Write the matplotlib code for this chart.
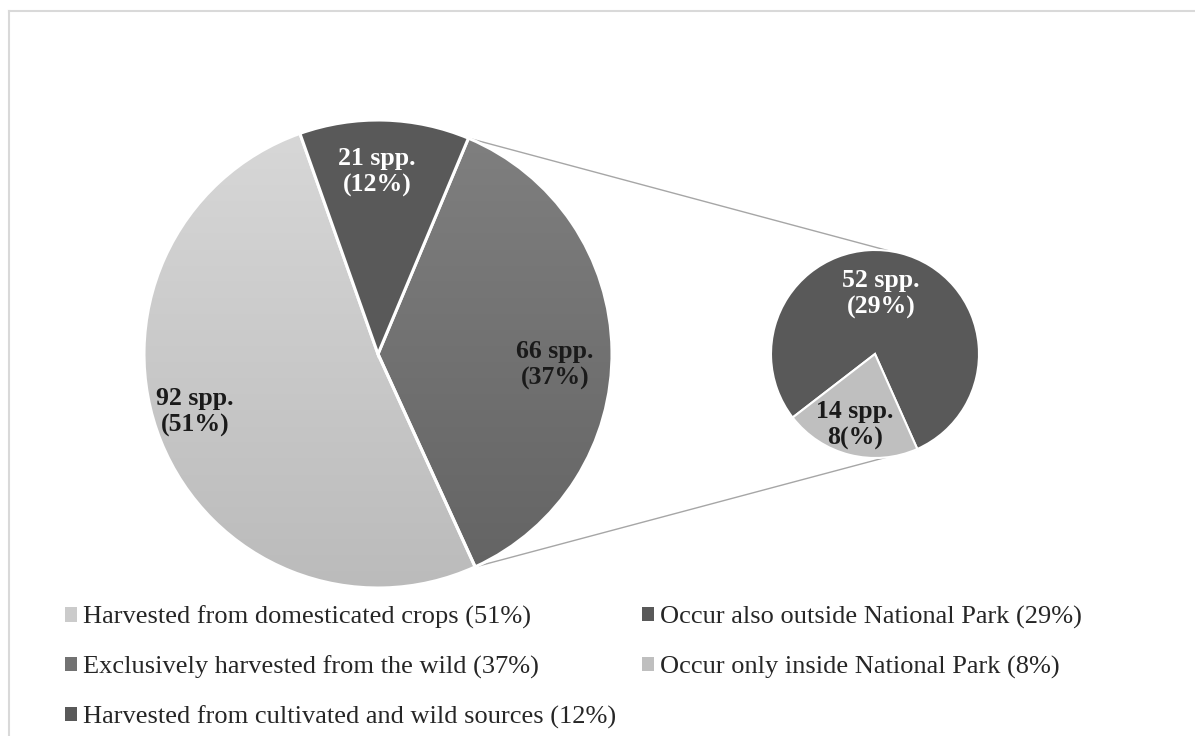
import matplotlib
matplotlib.use("Agg")
import matplotlib.pyplot as plt
import numpy as np
from matplotlib.patches import Patch
from matplotlib.lines import Line2D

plt.rcParams['font.family'] = ['Liberation Serif', 'DejaVu Serif']

# data
main_counts = [92, 66, 21]
main_pct = [51, 37, 12]
main_names = ['Harvested from domesticated crops',
              'Exclusively harvested from the wild',
              'Harvested from cultivated and wild sources']
sub_counts = [52, 14]
sub_pct = [29, 8]
sub_names = ['Occur also outside National Park',
             'Occur only inside National Park']
main_labels = ['92 spp.\n(51%)', '66 spp.\n(37%)', '21 spp.\n(12%)']
sub_labels = ['52 spp.\n(29%)', '14 spp.\n8(%)']

W, H = 1195, 736
fig = plt.figure(figsize=(W / 100, H / 100), dpi=100)
ax = fig.add_axes([0, 0, 1, 1])

main_c, main_r = (378, 382), 234
sub_c, sub_r = (875, 382), 104

# gradients (top, bottom) for main pie; None means flat colour
main_grad = [('#d8d8d8', '#bbbbbb'), ('#808080', '#636363'), None]
main_flat = ['#cbcbcb', '#727272', '#595959']
sub_colors = ['#595959', '#bfbfbf']

wedges, _ = ax.pie(main_counts, center=main_c, radius=main_r,
                   startangle=109.5, counterclock=True,
                   colors=main_flat,
                   wedgeprops=dict(edgecolor='white', linewidth=2.2))
for w, g in zip(wedges, main_grad):
    if g is None:
        continue
    top = np.array(matplotlib.colors.to_rgb(g[0]))
    bot = np.array(matplotlib.colors.to_rgb(g[1]))
    t = np.linspace(0, 1, 256)[:, None]
    img = (top * (1 - t) + bot * t)[:, None, :]
    im = ax.imshow(img, extent=(main_c[0] - main_r, main_c[0] + main_r,
                                main_c[1] - main_r, main_c[1] + main_r),
                   origin='upper', aspect='auto', zorder=0.5)
    im.set_clip_path(w)
    w.set_facecolor('none')

sub_w, _ = ax.pie(sub_counts, center=sub_c, radius=sub_r,
                  startangle=-66, counterclock=True, colors=sub_colors,
                  wedgeprops=dict(edgecolor='white', linewidth=1.5))

# connector lines from the broken-out slice to the secondary pie
mid = wedges[1]
a_top, a_bot = np.radians(mid.theta2), np.radians(mid.theta1)
b_top, b_bot = np.radians(82), np.radians(sub_w[1].theta2)
ax.plot([main_c[0] + main_r * np.cos(a_top), sub_c[0] + sub_r * np.cos(b_top)],
        [main_c[1] + main_r * np.sin(a_top), sub_c[1] + sub_r * np.sin(b_top)],
        color='#a6a6a6', lw=1, zorder=0.3)
ax.plot([main_c[0] + main_r * np.cos(a_bot), sub_c[0] + sub_r * np.cos(b_bot)],
        [main_c[1] + main_r * np.sin(a_bot), sub_c[1] + sub_r * np.sin(b_bot)],
        color='#a6a6a6', lw=1, zorder=0.3)

# slice labels
lab_kw = dict(ha='center', va='center', fontsize=18.5, fontweight='bold',
              linespacing=1.2)
ax.text(195, H - 412, main_labels[0], color='#1a1a1a', **lab_kw)
ax.text(555, H - 365, main_labels[1], color='#1a1a1a', **lab_kw)
ax.text(377, H - 172, main_labels[2], color='white', **lab_kw)
ax.text(881, H - 294, sub_labels[0], color='white', **lab_kw)
ax.text(855, H - 425, sub_labels[1], color='#1a1a1a', **lab_kw)

ax.set_xlim(0, W)
ax.set_ylim(0, H)
ax.set_aspect('equal')
ax.axis('off')

# legends
leg_kw = dict(frameon=False, fontsize=19, handlelength=0.45, handleheight=0.45,
              handletextpad=0.23, labelspacing=1.0, loc='upper left',
              borderaxespad=0, borderpad=0)
h1 = [Patch(facecolor=c, edgecolor='none') for c in main_flat]
l1 = ['%s (%d%%)' % (n, p) for n, p in zip(main_names, main_pct)]
leg1 = fig.legend(h1, l1, bbox_to_anchor=(65 / W, 1 - 606 / H), **leg_kw)
h2 = [Patch(facecolor=c, edgecolor='none') for c in sub_colors]
l2 = ['%s (%d%%)' % (n, p) for n, p in zip(sub_names, sub_pct)]
leg2 = fig.legend(h2, l2, bbox_to_anchor=(642 / W, 1 - 606 / H), **leg_kw)
for leg in (leg1, leg2):
    for t in leg.get_texts():
        t.set_color('#262626')

# outer frame (left and top only)
fig.add_artist(Line2D([8.5 / W, 8.5 / W], [0, 1 - 11 / H], color='#d9d9d9', lw=1.5))
fig.add_artist(Line2D([8.5 / W, 1], [1 - 11 / H, 1 - 11 / H], color='#d9d9d9', lw=1.5))

fig.savefig('out.png', dpi=100)
